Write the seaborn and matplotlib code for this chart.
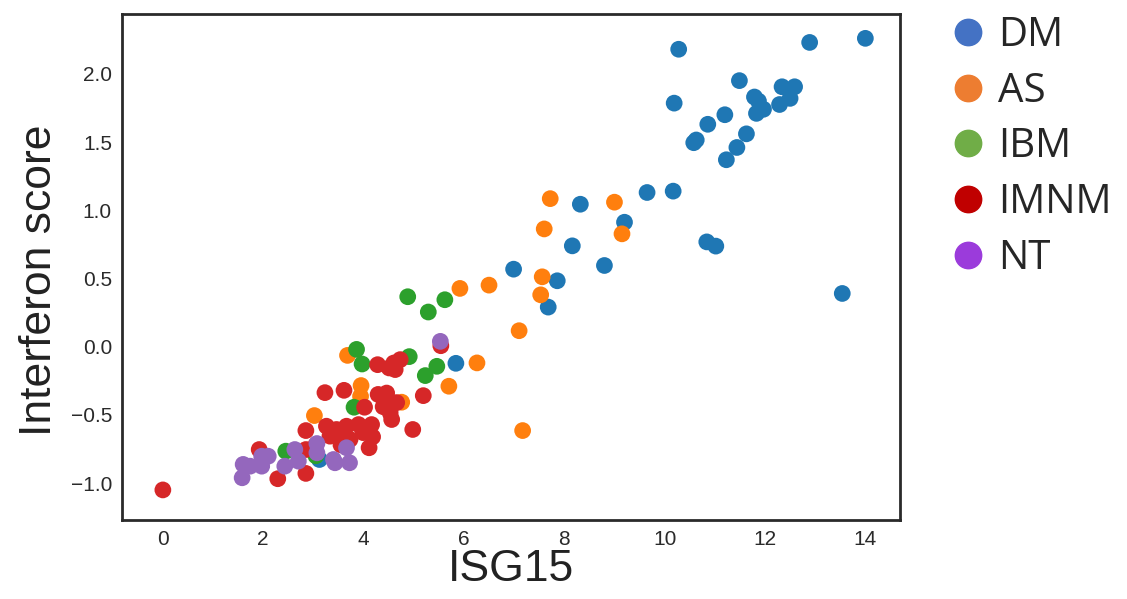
import matplotlib
matplotlib.use("Agg")
import matplotlib.pyplot as plt
from matplotlib.lines import Line2D
import seaborn as sns
import pandas as pd

groups = ["DM", "AS", "IBM", "IMNM", "NT"]
plot_colors = ["#1f77b4", "#ff7f0e", "#2ca02c", "#d62728", "#9467bd"]
legend_colors = ["#4472C4", "#ED7D31", "#70AD47", "#C00000", "#9B3BDB"]

dm_x = [14.0, 12.89, 10.28, 11.49, 10.19, 11.79, 11.87, 12.34, 12.59, 12.50, 12.29, 11.83,
        11.97, 11.20, 10.86, 10.58, 10.63, 11.63, 11.44, 11.23, 10.17, 9.65, 8.32, 9.20,
        8.16, 10.84, 11.02, 8.80, 6.99, 7.86, 7.68, 13.54, 5.84, 3.12]
dm_y = [2.26, 2.23, 2.18, 1.95, 1.785, 1.83, 1.80, 1.905, 1.905, 1.82, 1.775, 1.71,
        1.74, 1.70, 1.63, 1.495, 1.515, 1.56, 1.46, 1.37, 1.14, 1.13, 1.044, 0.912,
        0.739, 0.768, 0.737, 0.595, 0.568, 0.483, 0.290, 0.39, -0.122, -0.827]

as_x = [7.72, 9.00, 9.15, 7.60, 7.56, 6.50, 7.53, 7.10, 5.92, 6.26, 5.70, 3.68, 3.95,
        3.94, 4.76, 3.02, 7.17]
as_y = [1.085, 1.059, 0.827, 0.863, 0.512, 0.451, 0.380, 0.117, 0.427, -0.119, -0.290,
        -0.064, -0.285, -0.364, -0.407, -0.505, -0.615]

ibm_x = [4.88, 5.62, 5.29, 3.86, 3.97, 4.91, 5.46, 5.23, 3.81, 2.45, 3.05]
ibm_y = [0.366, 0.344, 0.254, -0.02, -0.127, -0.073, -0.144, -0.212, -0.444, -0.766, -0.80]

imnm_x = [0.0, 5.54, 4.28, 4.73, 4.51, 4.63, 4.60, 5.19, 4.98, 4.11, 3.23, 3.61, 4.29,
          4.46, 4.66, 4.39, 4.56, 4.53, 4.02, 2.85, 3.26, 3.46, 3.66, 3.90, 4.16, 4.18,
          3.33, 3.60, 3.73, 3.99, 1.92, 2.29, 2.85, 2.85, 3.55, 3.05, 4.40, 4.35]
imnm_y = [-1.05, 0.007, -0.132, -0.095, -0.156, -0.168, -0.12, -0.359, -0.607, -0.741,
          -0.337, -0.32, -0.35, -0.34, -0.41, -0.44, -0.534, -0.485, -0.444, -0.615,
          -0.583, -0.607, -0.583, -0.571, -0.571, -0.661, -0.656, -0.656, -0.68, -0.63,
          -0.754, -0.968, -0.929, -0.754, -0.72, -0.72, -0.38, -0.36]

nt_x = [5.53, 1.60, 1.58, 1.74, 1.97, 2.10, 1.97, 2.43, 2.63, 2.70, 3.07, 3.07, 3.40,
        3.66, 3.72, 3.43]
nt_y = [0.039, -0.863, -0.961, -0.876, -0.803, -0.803, -0.876, -0.876, -0.754, -0.839,
        -0.710, -0.778, -0.827, -0.741, -0.851, -0.851]

xs = [dm_x, as_x, ibm_x, imnm_x, nt_x]
ys = [dm_y, as_y, ibm_y, imnm_y, nt_y]
frames = [pd.DataFrame({"ISG15": x, "Interferon score": y, "group": g})
          for g, x, y in zip(groups, xs, ys)]
df = pd.concat(frames, ignore_index=True)

sns.set_style("white")
plt.rcParams["font.family"] = ["Liberation Sans", "DejaVu Sans"]

fig = plt.figure(figsize=(11.27, 5.99), dpi=100)
ax = fig.add_axes([0.108, 0.132, 0.691, 0.845])

sns.scatterplot(data=df, x="ISG15", y="Interferon score", hue="group",
                hue_order=groups, palette=plot_colors, s=145, edgecolor="none",
                linewidth=0, alpha=1, legend=False, ax=ax)

ax.set_xlim(-0.82, 14.70)
ax.set_ylim(-1.27, 2.44)
ax.set_xticks([0, 2, 4, 6, 8, 10, 12, 14])
ax.set_yticks([-1.0, -0.5, 0.0, 0.5, 1.0, 1.5, 2.0])
ax.set_yticklabels(["\u22121.0", "\u22120.5", "0.0", "0.5", "1.0", "1.5", "2.0"])
ax.tick_params(labelsize=15, colors="#2a2a2a", length=0, pad=7)
ax.set_xlabel("ISG15", fontsize=32, color="#222222", labelpad=0)
ax.set_ylabel("Interferon score", fontsize=32, color="#222222", labelpad=8)
ax.yaxis.label.set_y(0.474)
for sp in ax.spines.values():
    sp.set_color("#2a2a2a")
    sp.set_linewidth(2)

handles = [Line2D([0], [0], marker="o", linestyle="", markersize=19,
                  markerfacecolor=c, markeredgecolor=c) for c in legend_colors]
leg = fig.legend(handles, groups, loc="upper left", bbox_to_anchor=(0.827, 1.0007),
                 frameon=False, handletextpad=0.25, labelspacing=0.375,
                 handlelength=1.0, borderaxespad=0.0,
                 prop={"family": ["Open Sans", "DejaVu Sans"], "size": 29})

fig.savefig("out.png", dpi=100)
